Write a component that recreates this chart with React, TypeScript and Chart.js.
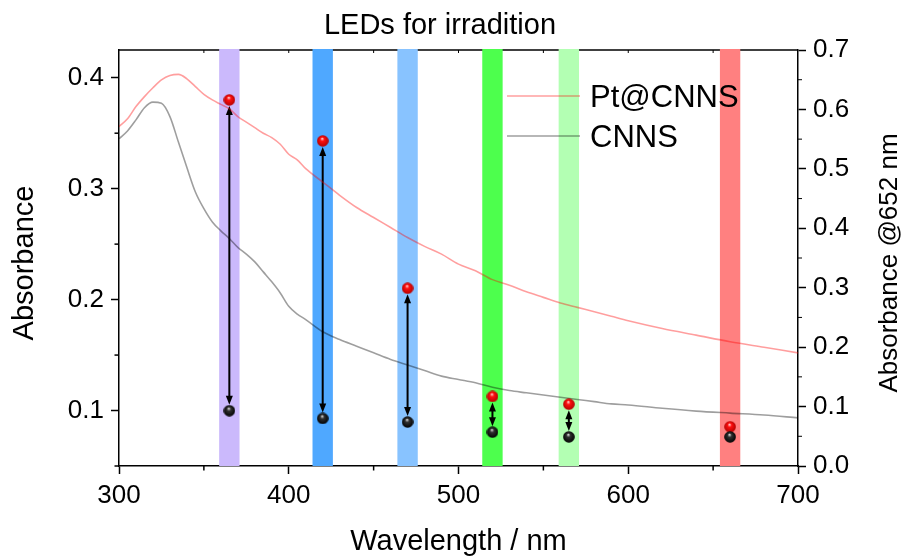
import { useEffect, useRef } from 'react';
import { Chart, registerables } from 'chart.js';

Chart.register(...registerables);

// UV-vis absorbance spectra (left axis)
const wavelengths = [
  300, 305, 310, 315, 320, 325, 330, 335, 340, 345, 350, 355, 360, 365, 370, 375, 380, 385, 390, 395,
  400, 405, 410, 420, 430, 440, 450, 460, 470, 480, 490, 500, 510, 520, 530, 540, 550, 560, 570, 580,
  590, 600, 620, 640, 660, 680, 700,
];
const ptCnnsAbs = [
  0.356, 0.363, 0.374, 0.383, 0.391, 0.398, 0.402, 0.403, 0.399, 0.392, 0.385, 0.380, 0.376, 0.372, 0.365, 0.360, 0.355, 0.350, 0.346, 0.340,
  0.331, 0.326, 0.318, 0.306, 0.294, 0.283, 0.274, 0.265, 0.256, 0.248, 0.241, 0.232, 0.226, 0.218, 0.213, 0.207, 0.202, 0.197, 0.193, 0.189,
  0.185, 0.181, 0.174, 0.168, 0.162, 0.157, 0.152,
];
const cnnsAbs = [
  0.345, 0.352, 0.362, 0.373, 0.378, 0.377, 0.365, 0.342, 0.319, 0.297, 0.282, 0.270, 0.262, 0.255, 0.247, 0.241, 0.234, 0.225, 0.216, 0.206,
  0.194, 0.187, 0.182, 0.171, 0.164, 0.158, 0.152, 0.146, 0.141, 0.136, 0.131, 0.128, 0.125, 0.121, 0.118, 0.116, 0.114, 0.112, 0.110, 0.108,
  0.106, 0.105, 0.102, 0.0995, 0.0977, 0.096, 0.0934,
];

// LEDs used for irradiation and TMB absorbance at 652 nm (right axis)
const ledWavelengths = [365, 420, 470, 520, 565, 660];
const ledColors = ['#CBB9FC', '#4FA8FF', '#88C3FF', '#4DFF4D', '#B3FFB3', '#FF8080'];
const ledBandwidth = 12;
const abs652PtCnns = [0.616, 0.547, 0.299, 0.117, 0.104, 0.066];
const abs652Cnns = [0.093, 0.080, 0.074, 0.057, 0.049, 0.049];

// Axis ticks
const xTicks = [300, 400, 500, 600, 700];
const xMinorTicks = [350, 450, 550, 650];
const topTicks = [350, 400, 450, 500, 550, 600, 650];
const leftTicks = [0.1, 0.2, 0.3, 0.4];
const leftMinorTicks = [0.05, 0.15, 0.25, 0.35];
const rightTicks = [0, 0.1, 0.2, 0.3, 0.4, 0.5, 0.6, 0.7];
const rightMinorTicks = [0.05, 0.15, 0.25, 0.35, 0.45, 0.55, 0.65];

const FONT = '"Liberation Sans", Arial, Helvetica, sans-serif';
const W = 901;
const H = 556;

function makeBall(highlight: string, base: string, dark: string, size = 12): HTMLCanvasElement {
  const c = document.createElement('canvas');
  c.width = size;
  c.height = size;
  const ctx = c.getContext('2d')!;
  const g = ctx.createRadialGradient(size * 0.45, size * 0.3, 0.3, size / 2, size / 2, size / 2);
  g.addColorStop(0, highlight);
  g.addColorStop(0.3, base);
  g.addColorStop(1, dark);
  ctx.fillStyle = g;
  ctx.beginPath();
  ctx.arc(size / 2, size / 2, size / 2 - 0.2, 0, Math.PI * 2);
  ctx.fill();
  return c;
}

function drawArrow(ctx: CanvasRenderingContext2D, x: number, yTop: number, yBot: number) {
  const head = 9;
  const half = 3.5;
  if (yBot - yTop < head * 2) return;
  ctx.save();
  ctx.strokeStyle = '#000';
  ctx.fillStyle = '#000';
  ctx.lineWidth = 2;
  ctx.beginPath();
  ctx.moveTo(x, yTop + head - 1);
  ctx.lineTo(x, yBot - head + 1);
  ctx.stroke();
  ctx.beginPath();
  ctx.moveTo(x, yTop);
  ctx.lineTo(x - half, yTop + head);
  ctx.lineTo(x + half, yTop + head);
  ctx.closePath();
  ctx.fill();
  ctx.beginPath();
  ctx.moveTo(x, yBot);
  ctx.lineTo(x - half, yBot - head);
  ctx.lineTo(x + half, yBot - head);
  ctx.closePath();
  ctx.fill();
  ctx.restore();
}

const underlayPlugin = {
  id: 'ledUnderlay',
  beforeDatasetsDraw(chart: any) {
    const { ctx, chartArea } = chart;
    const { left, right, top, bottom } = chartArea;
    const x = chart.scales.x;
    const y2 = chart.scales.y2;
    ctx.save();
    // top frame line
    ctx.strokeStyle = '#000';
    ctx.lineWidth = 1.5;
    ctx.beginPath();
    ctx.moveTo(left, top);
    ctx.lineTo(right, top);
    ctx.stroke();
    ctx.lineWidth = 1;
    for (const v of topTicks) {
      const px = x.getPixelForValue(v);
      ctx.beginPath();
      ctx.moveTo(px, top);
      ctx.lineTo(px, top + 3);
      ctx.stroke();
    }
    // LED bands
    ledWavelengths.forEach((nm, i) => {
      const l = x.getPixelForValue(nm - ledBandwidth / 2);
      const r = x.getPixelForValue(nm + ledBandwidth / 2);
      ctx.fillStyle = ledColors[i];
      ctx.fillRect(l, top - 1, r - l, bottom - top + 1);
    });
    // arrows between paired points
    const radius = 6;
    ledWavelengths.forEach((nm, i) => {
      const px = x.getPixelForValue(nm);
      const yTop = y2.getPixelForValue(abs652PtCnns[i]) + radius;
      const yBot = y2.getPixelForValue(abs652Cnns[i]) - radius;
      drawArrow(ctx, px, yTop, yBot);
    });
    ctx.restore();
  },
};

const overlayPlugin = {
  id: 'overlay',
  afterDraw(chart: any) {
    const { ctx, chartArea } = chart;
    const { left, right, bottom } = chartArea;
    const x = chart.scales.x;
    const y = chart.scales.y;
    const y2 = chart.scales.y2;
    ctx.save();
    ctx.strokeStyle = '#000';
    ctx.lineWidth = 1.5;
    // minor ticks
    for (const v of xMinorTicks) {
      const px = x.getPixelForValue(v);
      ctx.beginPath();
      ctx.moveTo(px, bottom);
      ctx.lineTo(px, bottom + 4.5);
      ctx.stroke();
    }
    for (const v of leftMinorTicks) {
      const py = y.getPixelForValue(v);
      ctx.beginPath();
      ctx.moveTo(left, py);
      ctx.lineTo(left - 4.5, py);
      ctx.stroke();
    }
    ctx.lineWidth = 1;
    for (const v of rightMinorTicks) {
      const py = y2.getPixelForValue(v);
      ctx.beginPath();
      ctx.moveTo(right, py);
      ctx.lineTo(right + 4, py);
      ctx.stroke();
    }

    ctx.fillStyle = '#000';
    // title
    ctx.font = `29px ${FONT}`;
    ctx.textAlign = 'center';
    ctx.textBaseline = 'alphabetic';
    ctx.fillText('LEDs for irradition', 440, 34);
    // x axis title
    ctx.fillText('Wavelength / nm', 458.5, 550);
    // left axis title
    ctx.save();
    ctx.translate(33, 263);
    ctx.rotate(-Math.PI / 2);
    ctx.fillText('Absorbance', 0, 0);
    ctx.restore();
    // right axis title
    ctx.save();
    ctx.font = `26px ${FONT}`;
    ctx.translate(897, 263);
    ctx.rotate(-Math.PI / 2);
    ctx.fillText('Absorbance @652 nm', 0, 0);
    ctx.restore();

    // legend
    const legend = [
      { label: 'Pt@CNNS', color: 'rgba(255,0,0,0.38)', y: 96 },
      { label: 'CNNS', color: 'rgba(0,0,0,0.38)', y: 136 },
    ];
    ctx.font = `31px ${FONT}`;
    ctx.textAlign = 'left';
    for (const item of legend) {
      ctx.strokeStyle = item.color;
      ctx.lineWidth = 1.6;
      ctx.beginPath();
      ctx.moveTo(507, item.y);
      ctx.lineTo(580, item.y);
      ctx.stroke();
      ctx.fillText(item.label, 590, item.y + 11);
    }
    ctx.restore();
  },
};

export default function App() {
  const canvasRef = useRef<HTMLCanvasElement | null>(null);

  useEffect(() => {
    const canvas = canvasRef.current;
    if (!canvas) return;
    const redBall = makeBall('#ffd0d0', '#ff1010', '#b00000');
    const blackBall = makeBall('#d8d8d8', '#303030', '#000000');
    const tickFont = { family: FONT, size: 26 };

    const chart = new Chart(canvas, {
      type: 'line',
      data: {
        datasets: [
          {
            label: 'CNNS @652 nm',
            data: ledWavelengths.map((w, i) => ({ x: w, y: abs652Cnns[i] })),
            yAxisID: 'y2',
            showLine: false,
            pointStyle: blackBall as any,
            pointRadius: 6,
            order: 1,
          },
          {
            label: 'Pt@CNNS @652 nm',
            data: ledWavelengths.map((w, i) => ({ x: w, y: abs652PtCnns[i] })),
            yAxisID: 'y2',
            showLine: false,
            pointStyle: redBall as any,
            pointRadius: 6,
            order: 2,
          },
          {
            label: 'CNNS',
            data: wavelengths.map((w, i) => ({ x: w, y: cnnsAbs[i] })),
            yAxisID: 'y',
            borderColor: 'rgba(0,0,0,0.38)',
            borderWidth: 1.6,
            pointRadius: 0,
            cubicInterpolationMode: 'monotone',
            order: 3,
          },
          {
            label: 'Pt@CNNS',
            data: wavelengths.map((w, i) => ({ x: w, y: ptCnnsAbs[i] })),
            yAxisID: 'y',
            borderColor: 'rgba(255,0,0,0.38)',
            borderWidth: 1.6,
            pointRadius: 0,
            cubicInterpolationMode: 'monotone',
            order: 4,
          },
        ],
      },
      options: {
        animation: false,
        responsive: false,
        devicePixelRatio: 1,
        events: [],
        layout: { padding: { top: 50, left: 0, right: 0, bottom: 0 } },
        plugins: {
          legend: { display: false },
          title: { display: false },
          tooltip: { enabled: false },
        },
        scales: {
          x: {
            type: 'linear',
            position: 'bottom',
            min: 300,
            max: 700,
            afterFit: (s: any) => { s.height = 90; },
            afterBuildTicks: (s: any) => { s.ticks = xTicks.map((v) => ({ value: v })); },
            ticks: { font: tickFont, color: '#000', padding: 6, maxRotation: 0, autoSkip: false },
            grid: { drawOnChartArea: false, drawTicks: true, tickLength: 8, tickColor: '#000', tickWidth: 1.5 },
            border: { display: true, color: '#000', width: 1.5 },
          },
          y: {
            type: 'linear',
            position: 'left',
            min: 0.05,
            max: 0.425,
            afterFit: (s: any) => { s.width = 119; },
            afterBuildTicks: (s: any) => { s.ticks = leftTicks.map((v) => ({ value: v })); },
            ticks: { font: tickFont, color: '#000', padding: 7, callback: (v: any) => Number(v).toFixed(1) },
            grid: { drawOnChartArea: false, drawTicks: true, tickLength: 8, tickColor: '#000', tickWidth: 1.5 },
            border: { display: true, color: '#000', width: 1.5 },
          },
          y2: {
            type: 'linear',
            position: 'right',
            min: 0,
            max: 0.7,
            afterFit: (s: any) => { s.width = 103; },
            afterBuildTicks: (s: any) => { s.ticks = rightTicks.map((v) => ({ value: v })); },
            ticks: { font: tickFont, color: '#000', padding: 7, callback: (v: any) => Number(v).toFixed(1) },
            grid: { drawOnChartArea: false, drawTicks: true, tickLength: 8, tickColor: '#000', tickWidth: 1.5 },
            border: { display: true, color: '#000', width: 1.5 },
          },
        },
      } as any,
      plugins: [underlayPlugin, overlayPlugin],
    });

    return () => chart.destroy();
  }, []);

  return (
    <div style={{ position: 'fixed', left: 0, top: 0, width: W, height: H, background: '#fff' }}>
      <canvas ref={canvasRef} width={W} height={H} style={{ display: 'block', width: W, height: H }} />
    </div>
  );
}
